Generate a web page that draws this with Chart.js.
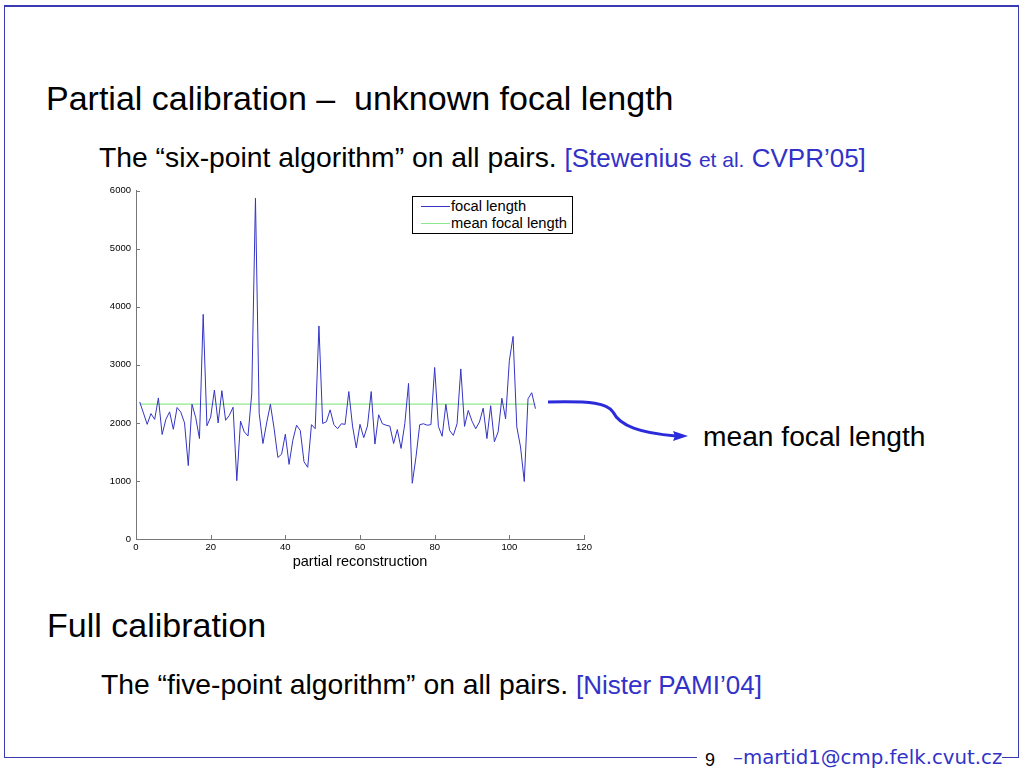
<!DOCTYPE html>
<html>
<head>
<meta charset="utf-8">
<script src="https://cdn.jsdelivr.net/npm/chart.js@4.4.1/dist/chart.umd.min.js"></script>
<style>
  html, body { margin:0; padding:0; background:#fff; }
  body { width:1024px; height:768px; position:relative; overflow:hidden; font-family:"Liberation Sans", Arial, sans-serif; }
  .t { position:absolute; white-space:pre; line-height:1; color:#000; }
  .blue { color:#3232c8; }
  #chartWrap { position:absolute; left:96px; top:180px; width:504px; height:400px; }
  #legend { position:absolute; left:412px; top:196px; width:159px; height:36px; border:1px solid #000; background:#fff; font-size:14.7px; }
  #legend .row { position:absolute; left:0; height:18px; width:100%; }
  #legend .ln { position:absolute; left:8px; width:29px; top:9px; height:0; border-top:1px solid; }
  #legend .lb { position:absolute; left:38px; top:1px; line-height:16px; white-space:pre; }
  svg.overlay { position:absolute; left:0; top:0; }
</style>
</head>
<body>
<svg class="overlay" width="1024" height="768">
  <!-- slide frame -->
  <line x1="4" y1="6" x2="1019" y2="6" stroke="#3a3ab4" stroke-width="2"/>
  <line x1="4.5" y1="6" x2="4.5" y2="757" stroke="#3a3ab4" stroke-width="1"/>
  <line x1="1018.5" y1="6" x2="1018.5" y2="757" stroke="#3a3ab4" stroke-width="1"/>
  <line x1="4" y1="757.5" x2="697" y2="757.5" stroke="#3a3ab4" stroke-width="1"/>
  <line x1="1002" y1="757.5" x2="1019" y2="757.5" stroke="#3a3ab4" stroke-width="1"/>
  <!-- arrow -->
  <path d="M548,402 C592,401 607,403 613,412 C620,426 640,433 676,436" fill="none" stroke="#2b2bdc" stroke-width="3"/>
  <polygon points="688,436 673,431 675,436 673,441" fill="#2b2bdc"/>
</svg>

<div class="t" style="left:46px; top:81px; font-size:34px;">Partial calibration –  unknown focal length</div>
<div class="t" style="left:99px; top:143px; font-size:28.3px;">The “six-point algorithm” on all pairs. <span class="blue" style="font-size:26px;">[Stewenius <span style="font-size:21px;">et al.</span> CVPR’05]</span></div>
<div class="t" style="left:703px; top:422px; font-size:28.2px;">mean focal length</div>
<div class="t" style="left:47px; top:608px; font-size:34px;">Full calibration</div>
<div class="t" style="left:101px; top:670px; font-size:28.3px;">The “five-point algorithm” on all pairs. <span class="blue" style="font-size:26px;">[Nister PAMI’04]</span></div>
<div class="t" style="left:705px; top:751px; font-size:18px;">9</div>
<div class="t blue" style="left:733px; top:748px; font-size:19.8px; font-family:'DejaVu Sans', sans-serif;">–martid1@cmp.felk.cvut.cz</div>

<div id="chartWrap"><canvas id="c" width="504" height="400"></canvas></div>
<div id="legend"></div>

<script>
// ---- data ----
const reconstructionIndex = [
  1,2,3,4,5,6,7,8,9,10,11,12,13,14,15,16,17,18,19,20,
  21,22,23,24,25,26,27,28,29,30,31,32,33,34,35,36,37,38,39,40,
  41,42,43,44,45,46,47,48,49,50,51,52,53,54,55,56,57,58,59,60,
  61,62,63,64,65,66,67,68,69,70,71,72,73,74,75,76,77,78,79,80,
  81,82,83,84,85,86,87,88,89,90,91,92,93,94,95,96,97,98,99,100,
  101,102,103,104,105,106,107
];
const focalLength = [
  2360,2170,1975,2160,2060,2430,1800,2060,2190,1890,2265,2185,2000,1265,2320,2090,1730,3870,1950,2100,
  2565,2000,2555,2045,2130,2270,1005,2030,1845,1775,2500,5870,2160,1645,2000,2320,1900,1405,1460,1805,
  1285,1700,1960,1870,1330,1235,1970,1900,3670,1990,2020,2225,1970,1900,1985,1975,2540,1945,1570,1975,
  1745,1945,2540,1635,2140,1985,1960,1945,1645,1885,1560,1985,2680,960,1415,1970,1985,1960,1970,2955,
  1940,1770,2320,1870,1785,1985,2930,1940,2215,2030,1900,2015,2255,1730,2295,1675,1845,2425,2070,3070,
  3490,1930,1585,990,2415,2520,2245
];
const meanFocalLength = 2325;
const meanRange = [1, 107];
const xTicks = [0, 20, 40, 60, 80, 100, 120];
const yTicks = [0, 1000, 2000, 3000, 4000, 5000, 6000];
const seriesLabels = ['focal length', 'mean focal length'];
const xTitle = 'partial reconstruction';

// ---- chart ----
const FONT = '"Liberation Sans", Arial, sans-serif';
const focalColor = '#3434c4';
const meanColor = '#8ee88e';

const innerTicks = {
  id: 'innerTicks',
  afterDraw(chart) {
    const ctx = chart.ctx, a = chart.chartArea;
    const xs = chart.scales.x, ys = chart.scales.y;
    ctx.save();
    ctx.strokeStyle = '#777';
    ctx.lineWidth = 1;
    ctx.beginPath();
    xTicks.forEach(v => { const px = Math.round(xs.getPixelForValue(v)) + 0.5; ctx.moveTo(px, a.bottom); ctx.lineTo(px, a.bottom - 4); });
    yTicks.forEach(v => { const py = Math.round(ys.getPixelForValue(v)) + 0.5; ctx.moveTo(a.left, py); ctx.lineTo(a.left + 4, py); });
    ctx.stroke();
    ctx.restore();
  }
};

const chart = new Chart(document.getElementById('c'), {
  type: 'line',
  data: {
    datasets: [
      {
        label: seriesLabels[0],
        data: reconstructionIndex.map((x, i) => ({x, y: focalLength[i]})),
        borderColor: focalColor, borderWidth: 1, pointRadius: 0, tension: 0, fill: false
      },
      {
        label: seriesLabels[1],
        data: meanRange.map(x => ({x, y: meanFocalLength})),
        borderColor: meanColor, borderWidth: 1.2, pointRadius: 0, tension: 0, fill: false
      }
    ]
  },
  options: {
    responsive: false,
    animation: false,
    layout: { padding: { top: 9, right: 16, left: 0, bottom: 0 } },
    plugins: { legend: { display: false }, tooltip: { enabled: false } },
    scales: {
      x: {
        type: 'linear', min: 0, max: 120,
        afterBuildTicks: s => { s.ticks = xTicks.map(v => ({value: v})); },
        afterFit: s => { s.height = 41; },
        grid: { display: false, drawTicks: false },
        border: { display: true, color: '#777', width: 1 },
        ticks: { padding: 3, color: '#000', font: { family: FONT, size: 9.5 }, maxRotation: 0, callback: v => String(v) },
        title: { display: true, text: xTitle, color: '#000', font: { family: FONT, size: 14.5 }, padding: { top: 0, bottom: 9 } }
      },
      y: {
        type: 'linear', min: 0, max: 6000,
        afterBuildTicks: s => { s.ticks = yTicks.map(v => ({value: v})); },
        afterFit: s => { s.width = 40; },
        grid: { display: false, drawTicks: false },
        border: { display: true, color: '#777', width: 1 },
        ticks: { padding: 5, color: '#000', font: { family: FONT, size: 9.5 }, callback: v => String(v) }
      }
    }
  },
  plugins: [innerTicks]
});

// legend built from datasets
const lg = document.getElementById('legend');
chart.data.datasets.forEach((d, i) => {
  const row = document.createElement('div');
  row.className = 'row';
  row.style.top = (i * 17) + 'px';
  row.innerHTML = '<div class="ln" style="border-color:' + d.borderColor + '"></div><div class="lb">' + d.label + '</div>';
  lg.appendChild(row);
});
</script>
</body>
</html>
